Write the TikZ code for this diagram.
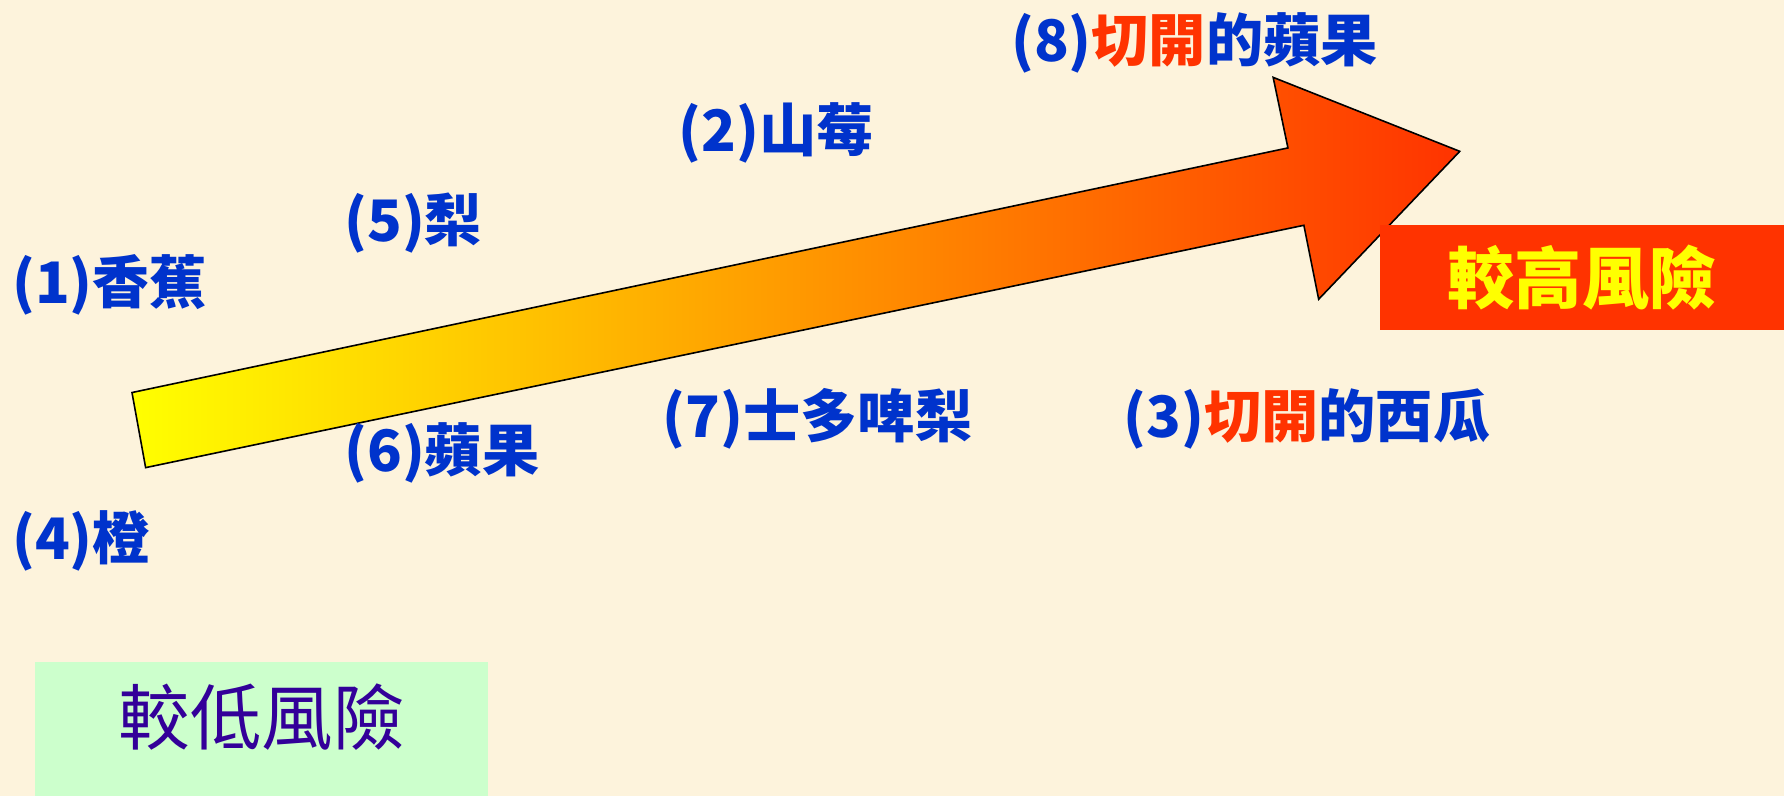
\documentclass[tikz,border=0pt]{standalone}
\usepackage{fontspec}
\newfontfamily\cjk{Noto Sans CJK TC}
\definecolor{paper}{RGB}{253,243,220}
\definecolor{itemblue}{RGB}{0,51,204}
\definecolor{hotred}{RGB}{255,51,0}
\definecolor{lowgreen}{RGB}{204,255,204}
\definecolor{lowblue}{RGB}{51,0,153}
\definecolor{arrowmid}{RGB}{255,192,0}
\definecolor{arrowyellow}{RGB}{255,255,0}
\tikzset{
  fruit/.style={anchor=west,inner sep=0pt,text=itemblue,font=\cjk\bfseries\fontsize{14.3}{17}\selectfont},
  riskbox/.style={inner sep=0pt,outer sep=0pt}
}
\begin{document}
\begin{tikzpicture}

        \fill[paper] (0,0) rectangle (15.68,7);
        \useasboundingbox (0,0) rectangle (15.68,7);

        % the big arrow
        \coordinate (tailtop) at (1.16,3.55);
        \coordinate (tailbot) at (1.28,2.89);
        \coordinate (neckup) at (11.32,5.70);
        \coordinate (headup) at (11.19,6.32);
        \coordinate (tip) at (12.83,5.67);
        \coordinate (headlow) at (11.59,4.37);
        \coordinate (necklow) at (11.46,5.02);
        \shade[left color=arrowyellow,middle color=arrowmid,right color=hotred]
        (tailtop) -- (neckup) -- (headup) -- (tip) -- (headlow) -- (necklow) -- (tailbot) -- cycle;
        \draw[black,thin,line join=miter]
        (tailtop) -- (neckup) -- (headup) -- (tip) -- (headlow) -- (necklow) -- (tailbot) -- cycle;

        \node[riskbox,fill=hotred,minimum width=3.55cm,minimum height=0.92cm,anchor=north west,
              text=arrowyellow,font=\cjk\bfseries\fontsize{16.8}{20}\selectfont] (high) at (12.13,5.02) {較高風險};
        \node[riskbox,fill=lowgreen,minimum width=3.98cm,text height=0.72cm,text depth=0.46cm,anchor=south west,
              text=lowblue,font=\cjk\fontsize{17.9}{21}\selectfont] (low) at (0.31,0) {較低風險};

        \node[fruit] (apple8) at (8.88,6.62) {(8)\textcolor{hotred}{切開}的蘋果};
        \node[fruit] (berry2) at (5.96,5.83) {(2)山莓};
        \node[fruit] (pear5) at (3.02,5.04) {(5)梨};
        \node[fruit] (banana1) at (0.10,4.50) {(1)香蕉};
        \node[fruit] (straw7) at (5.82,3.32) {(7)士多啤梨};
        \node[fruit] (melon3) at (9.87,3.32) {(3)\textcolor{hotred}{切開}的西瓜};
        \node[fruit] (apple6) at (3.02,3.02) {(6)蘋果};
        \node[fruit] (orange4) at (0.10,2.25) {(4)橙};

\end{tikzpicture}
\end{document}
